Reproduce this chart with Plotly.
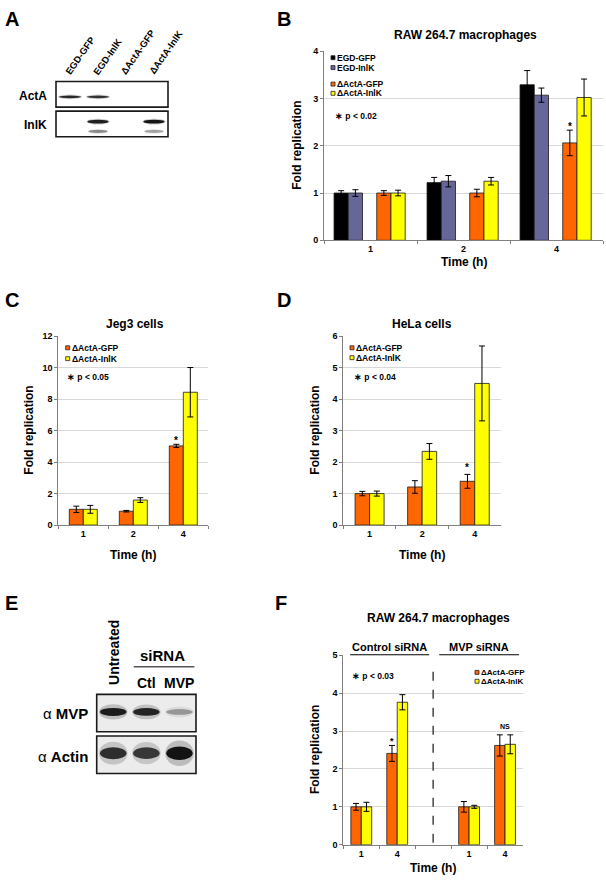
import plotly.graph_objects as go

W, H = 606, 885
FONT = "Liberation Sans"

# ---------------- data ----------------
# Panel A: western blot, relative band intensity per lane
A_lanes = ["EGD-GFP", "EGD-InlK", "ΔActA-GFP", "ΔActA-InlK"]
A_rows = ["ActA", "InlK"]
A_acta = [0.90, 0.85, 0.0, 0.0]
A_inlk = [0.0, 0.95, 0.0, 1.0]
A_inlk_lower = [0.0, 0.45, 0.0, 0.35]

# Panel B: RAW 264.7 macrophages
B_times = ["1", "2", "4"]
B_names = ["EGD-GFP", "EGD-InlK", "ΔActA-GFP", "ΔActA-InlK"]
B_egd_gfp = [1.00, 1.22, 3.29]
B_egd_gfp_err = [0.05, 0.11, 0.30]
B_egd_inlk = [1.00, 1.25, 3.07]
B_egd_inlk_err = [0.07, 0.12, 0.15]
B_dacta_gfp = [1.00, 1.00, 2.06]
B_dacta_gfp_err = [0.05, 0.08, 0.27]
B_dacta_inlk = [1.00, 1.25, 3.02]
B_dacta_inlk_err = [0.06, 0.08, 0.39]
B_sig = ["", "", "*"]
B_pvalue = "p < 0.02"

# Panel C: Jeg3 cells
C_times = ["1", "2", "4"]
C_gfp = [1.00, 0.88, 5.03]
C_gfp_err = [0.20, 0.05, 0.10]
C_inlk = [1.00, 1.59, 8.44]
C_inlk_err = [0.25, 0.15, 1.57]
C_sig = ["", "", "*"]
C_pvalue = "p < 0.05"

# Panel D: HeLa cells
D_times = ["1", "2", "4"]
D_gfp = [1.00, 1.21, 1.39]
D_gfp_err = [0.07, 0.20, 0.22]
D_inlk = [1.00, 2.34, 4.50]
D_inlk_err = [0.08, 0.25, 1.19]
D_sig = ["", "", "*"]
D_pvalue = "p < 0.04"

# Panel E: western blot
E_lanes = ["Untreated", "Ctl", "MVP"]
E_mvp = [0.95, 0.90, 0.35]
E_actin = [0.85, 0.80, 1.00]

# Panel F: RAW 264.7 macrophages, siRNA
F_groups = ["Control siRNA", "MVP siRNA"]
F_times = ["1", "4"]
F_gfp = [1.00, 2.41, 1.00, 2.62]
F_gfp_err = [0.09, 0.21, 0.14, 0.28]
F_inlk = [1.00, 3.76, 1.00, 2.65]
F_inlk_err = [0.12, 0.20, 0.04, 0.25]
F_gfp_sig = ["", "*", "", ""]
F_pair_sig = ["", "", "", "NS"]
F_pvalue = "p < 0.03"

COL = {"EGD-GFP": "#000000", "EGD-InlK": "#666699",
       "ΔActA-GFP": "#ff6600", "ΔActA-InlK": "#ffff00"}

# ---------------- helpers ----------------
def PX(x):
    return x / W

def PY(y):
    return 1 - y / H

def dx(a, b):
    return [a / W, b / W]

def dy(top, bottom):
    return [1 - bottom / H, 1 - top / H]

shapes = []
ann = []
TICK = 9

def font(size, bold=True, color="black"):
    return dict(family=FONT, size=size, color=color, weight="bold" if bold else "normal")

def text(x, y, s, size=9, xanchor="center", yanchor="middle", angle=0,
         xref="paper", yref="paper", bold=True, **kw):
    ann.append(dict(x=x, y=y, text=s, xref=xref, yref=yref, showarrow=False,
                    xanchor=xanchor, yanchor=yanchor, textangle=angle,
                    font=font(size, bold), **kw))

fig = go.Figure()

def bars(x, y, err, name, ax, offset, width):
    fig.add_trace(go.Bar(
        x=x, y=y, name=name, xaxis="x" + ax, yaxis="y" + ax,
        offset=offset, width=width,
        marker=dict(color=COL[name], line=dict(color="#1a1a1a", width=0.8)),
        error_y=dict(type="data", array=err, visible=True, color="black",
                     thickness=1, width=3),
        showlegend=False))

def chart_axes(ax, xd, yd, cats, yrange, dtick, ticktext=None):
    xa = dict(domain=xd, type="category", categoryorder="array", categoryarray=cats,
              range=[-0.5, len(cats) - 0.5], showline=True, linecolor="#808080",
              linewidth=1, ticks="outside", tickson="boundaries", ticklen=3,
              tickcolor="#808080", tickfont=font(TICK), showgrid=False,
              zeroline=False, fixedrange=True, anchor="y" + ax)
    if ticktext is not None:
        xa.update(tickmode="array", tickvals=cats, ticktext=ticktext)
    ya = dict(domain=yd, range=yrange, dtick=dtick, showline=True, linecolor="#808080",
              linewidth=1, ticks="outside", ticklen=3, tickcolor="#808080",
              tickfont=font(TICK), showgrid=True, gridcolor="#d9d9d9", gridwidth=1,
              zeroline=False, fixedrange=True, anchor="x" + ax)
    return {"xaxis" + ax: xa, "yaxis" + ax: ya}

def legend_block(x_left, y_centers, names, size=8.5, sq=4.0):
    for name, yc in zip(names, y_centers):
        shapes.append(dict(type="rect", xref="paper", yref="paper",
                           x0=PX(x_left), x1=PX(x_left + sq),
                           y0=PY(yc + sq / 2), y1=PY(yc - sq / 2),
                           fillcolor=COL[name], line=dict(color="#222", width=0.8)))
        text(PX(x_left + sq), PY(yc), name, size=size, xanchor="left")

layout_axes = {}

# ---------------- Panel B ----------------
Bw = 0.153
B_off = [-0.392, -0.239, 0.067, 0.220]
for vals, errs, name, off in zip([B_egd_gfp, B_egd_inlk, B_dacta_gfp, B_dacta_inlk],
                                 [B_egd_gfp_err, B_egd_inlk_err, B_dacta_gfp_err, B_dacta_inlk_err],
                                 B_names, B_off):
    bars(B_times, vals, errs, name, "", off, Bw)
layout_axes.update(chart_axes("", dx(324, 603), dy(46.7, 238), B_times, [0, 4], 1))
text(PX(465), PY(30.7), "RAW 264.7 macrophages", size=12)
text(PX(297), (PY(46.7) + PY(238)) / 2, "Fold replication", size=12, angle=-90)
text(0.5, PY(260), "Time (h)", size=12, xref="x domain")
legend_block(331, [53.3, 63.3], B_names[:2])
legend_block(331, [80.0, 89.3], B_names[2:])
text(PX(333), PY(112.7), "∗ " + B_pvalue, size=8.5, xanchor="left")
for i, s in enumerate(B_sig):
    if s:
        text(i + B_off[2] + Bw / 2, B_dacta_gfp[i] + B_dacta_gfp_err[i], s, size=10,
             xref="x", yref="y", yanchor="bottom", yshift=-4)

# ---------------- Panel C ----------------
Cw = 0.28
bars(C_times, C_gfp, C_gfp_err, "ΔActA-GFP", "2", -Cw, Cw)
bars(C_times, C_inlk, C_inlk_err, "ΔActA-InlK", "2", 0, Cw)
layout_axes.update(chart_axes("2", dx(58.3, 208.3), dy(335, 526), C_times, [0, 12], 2))
text(PX(135), PY(322.7), "Jeg3 cells", size=12)
text(PX(29), (PY(335) + PY(526)) / 2, "Fold replication", size=12, angle=-90)
text(0.5, PY(556), "Time (h)", size=12, xref="x2 domain")
legend_block(65.7, [346.7, 357.7], ["ΔActA-GFP", "ΔActA-InlK"])
text(PX(64.5), PY(376), "∗ " + C_pvalue, size=8.5, xanchor="left")
for i, s in enumerate(C_sig):
    if s:
        text(i - Cw / 2, C_gfp[i] + C_gfp_err[i], s, size=10,
             xref="x2", yref="y2", yanchor="bottom", yshift=-4)

# ---------------- Panel D ----------------
Dw = 0.276
bars(D_times, D_gfp, D_gfp_err, "ΔActA-GFP", "3", -Dw, Dw)
bars(D_times, D_inlk, D_inlk_err, "ΔActA-InlK", "3", 0, Dw)
layout_axes.update(chart_axes("3", dx(343.3, 501), dy(335, 526), D_times, [0, 6], 1))
text(PX(421.7), PY(322.7), "HeLa cells", size=12)
text(PX(315), (PY(335) + PY(526)) / 2, "Fold replication", size=12, angle=-90)
text(0.5, PY(556), "Time (h)", size=12, xref="x3 domain")
legend_block(350, [346.7, 356.7], ["ΔActA-GFP", "ΔActA-InlK"])
text(PX(351.5), PY(376), "∗ " + D_pvalue, size=8.5, xanchor="left")
for i, s in enumerate(D_sig):
    if s:
        text(i - Dw / 2, D_gfp[i] + D_gfp_err[i], s, size=10,
             xref="x3", yref="y3", yanchor="bottom", yshift=-1)

# ---------------- Panel F ----------------
F_cats = [f"{g} {t}" for g in F_groups for t in F_times]
F_axis_cats = F_cats[:2] + ["gap"] + F_cats[2:]
F_ticktext = F_times + [""] + F_times
Fw = 0.29
bars(F_cats, F_gfp, F_gfp_err, "ΔActA-GFP", "4", -Fw, Fw)
bars(F_cats, F_inlk, F_inlk_err, "ΔActA-InlK", "4", 0, Fw)
layout_axes.update(chart_axes("4", dx(343.3, 523), dy(657.7, 849.3), F_axis_cats, [0, 5], 1,
                              ticktext=F_ticktext))
text(PX(438.3), PY(620), "RAW 264.7 macrophages", size=12)
text(PX(315), (PY(657.7) + PY(849.3)) / 2, "Fold replication", size=12, angle=-90)
text(0.5, PY(873), "Time (h)", size=12, xref="x4 domain")
gap_i = F_axis_cats.index("gap")
shapes.append(dict(type="line", xref="x4", yref="y4", x0=gap_i, x1=gap_i, y0=0.05, y1=4.77,
                   line=dict(color="#444", width=1.5, dash="dash")))
# group headers with underline (above the plot area)
hdr = [(-0.31, gap_i - 0.11), (gap_i + 0.17, len(F_axis_cats) - 0.61)]
for g, (a, b) in zip(F_groups, hdr):
    shapes.append(dict(type="line", xref="x4", yref="paper", x0=a, x1=b,
                       y0=PY(657.2), y1=PY(657.2), line=dict(color="black", width=1.2)))
    text((a + b) / 2, PY(649.0), g, size=11, xref="x4")
legend_block(475, [675, 684], ["ΔActA-GFP", "ΔActA-InlK"], size=8)
text(PX(350), PY(678.3), "∗ " + F_pvalue, size=8.5, xanchor="left")
for k, s in enumerate(F_gfp_sig):
    if s:
        pos = F_axis_cats.index(F_cats[k])
        text(pos - Fw / 2, F_gfp[k] + F_gfp_err[k], s, size=9,
             xref="x4", yref="y4", yanchor="bottom", yshift=-3)
for k, s in enumerate(F_pair_sig):
    if s:
        pos = F_axis_cats.index(F_cats[k])
        top = max(F_gfp[k] + F_gfp_err[k], F_inlk[k] + F_inlk_err[k])
        text(pos, top, s, size=7, xref="x4", yref="y4", yanchor="bottom", yshift=3)

# ---------------- Blots ----------------
def blot_axes(ax, xd, yd, n):
    return {"xaxis" + ax: dict(domain=xd, range=[-0.5, n - 0.5], visible=False,
                               fixedrange=True, anchor="y" + ax),
            "yaxis" + ax: dict(domain=yd, range=[0, 1], visible=False,
                               fixedrange=True, anchor="x" + ax)}

def blot_box(ax, fill):
    shapes.append(dict(type="rect", xref="x" + ax + " domain", yref="y" + ax + " domain",
                       x0=0, x1=1, y0=0, y1=1, fillcolor=fill,
                       line=dict(color="#1a1a1a", width=1.6)))

def band(ax, lane, yc, hw, hh, a, halo=1.9):
    if a <= 0:
        return
    shapes.append(dict(type="circle", xref="x" + ax, yref="y" + ax,
                       x0=lane - hw * 1.08, x1=lane + hw * 1.08,
                       y0=yc - hh * halo, y1=yc + hh * halo,
                       fillcolor=f"rgba(0,0,0,{0.2 * a:.3f})", line=dict(width=0)))
    shapes.append(dict(type="circle", xref="x" + ax, yref="y" + ax,
                       x0=lane - hw, x1=lane + hw, y0=yc - hh, y1=yc + hh,
                       fillcolor=f"rgba(0,0,0,{0.9 * a:.3f})", line=dict(width=0)))

# Panel A blot
layout_axes.update(blot_axes("5", dx(56, 168), dy(77.3, 103.3), len(A_lanes)))
layout_axes.update(blot_axes("6", dx(56, 168), dy(107.3, 133.3), len(A_lanes)))
blot_box("5", "white")
blot_box("6", "white")
for i, a in enumerate(A_acta):
    band("5", i, 0.40, 0.40, 0.05, a, halo=1.8)
for i, a in enumerate(A_inlk):
    band("6", i, 0.59, 0.38, 0.07, a, halo=1.6)
for i, a in enumerate(A_inlk_lower):
    band("6", i, 0.21, 0.34, 0.06, a, halo=1.6)
for i, lane in enumerate(A_lanes):
    text(i, PY(75), lane, size=9.5, xref="x5", xanchor="left", yanchor="bottom",
         angle=-55, xshift=-10)
text(PX(49), 0.45, A_rows[0], size=12, xanchor="right", yref="y5 domain")
text(PX(49), 0.45, A_rows[1], size=12, xanchor="right", yref="y6 domain")

# Panel E blot
layout_axes.update(blot_axes("7", dx(96.7, 196), dy(697.3, 735), len(E_lanes)))
layout_axes.update(blot_axes("8", dx(96.7, 196), dy(739.3, 777.3), len(E_lanes)))
blot_box("7", "#ececec")
blot_box("8", "#ececec")
for i, a in enumerate(E_mvp):
    band("7", i, 0.53, 0.40, 0.06 + 0.05 * a, a)
for i, a in enumerate(E_actin):
    band("8", i, 0.54, 0.40, 0.06 + 0.12 * a, a)
text(0, PY(690), E_lanes[0], size=14, xref="x7", yanchor="bottom", angle=-90)
text(1, PY(685.7), E_lanes[1], size=14, xref="x7")
text(2, PY(685.7), E_lanes[2], size=14, xref="x7")
text(1.5, PY(657.7), "siRNA", size=15, xref="x7")
shapes.append(dict(type="line", xref="x7", yref="paper", x0=0.62, x1=2.45,
                   y0=PY(669.3), y1=PY(669.3), line=dict(color="#555", width=1.6)))
text(PX(90), 0.5, "α <b>MVP</b>", size=15, xanchor="right", yref="y7 domain", bold=False)
text(PX(90), 0.45, "α <b>Actin</b>", size=15, xanchor="right", yref="y8 domain", bold=False)

# ---------------- panel letters ----------------
for letter, x, y in [("A", 3, 13.7), ("B", 275, 14), ("C", 3, 298), ("D", 275, 298),
                     ("E", 3, 605), ("F", 273, 605)]:
    text(PX(x), PY(y), letter, size=20, xanchor="left")

fig.update_layout(
    width=W, height=H, margin=dict(l=0, r=0, t=0, b=0),
    paper_bgcolor="white", plot_bgcolor="white",
    barmode="overlay", showlegend=False,
    font=dict(family=FONT, color="black"),
    shapes=shapes, annotations=ann, **layout_axes)

fig.write_html("out.html",
               config={"displayModeBar": False},
               post_script="document.body.style.margin='0px';"
                           "document.body.style.overflow='hidden';")
